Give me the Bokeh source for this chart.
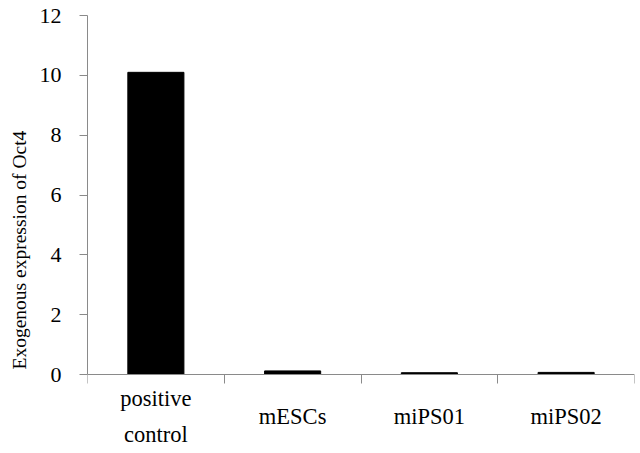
from bokeh.plotting import figure
from bokeh.models import Range1d, FixedTicker, ColumnDataSource, Title
from bokeh.core.properties import value
from bokeh.embed import file_html
from bokeh.resources import INLINE

categories = ["positive\ncontrol", "mESCs", "miPS01", "miPS02"]
values = [10.1, 0.12, 0.06, 0.07]
y_ticks = [0, 2, 4, 6, 8, 10, 12]
y_title = "Exogenous expression of Oct4"

xs = [i + 0.5 for i in range(len(categories))]
src = ColumnDataSource(dict(x=xs, top=values, base=[0] * len(xs), label=categories))

# layout in pixels (page origin observed at ~1px)
origin = 1
H = 450
top_border = 15
frame_top = origin + top_border
zero_px = 375
frame_bottom = origin + H
ppu = (zero_px - frame_top) / 12.0
y_start = -(frame_bottom - zero_px) / ppu

p = figure(width=636, height=H, output_backend="svg", toolbar_location=None,
           x_range=Range1d(0, len(categories)), y_range=Range1d(y_start, 12),
           min_border_left=87, min_border_right=2, min_border_top=top_border,
           min_border_bottom=0, outline_line_color=None)
p.xgrid.visible = False
p.ygrid.visible = False

p.vbar(x="x", top="top", bottom="base", width=0.41, source=src,
       fill_color="black", line_color="black")

font = "Liberation Serif"
p.text(x="x", y="base", text="label", source=src, y_offset=42,
       text_font=value(font), text_font_size="22.5px", text_color="black",
       text_align="center", text_baseline="middle", text_line_height=1.45)

axis_col = "#8a8a8a"

bx = p.xaxis[0]
bx.fixed_location = 0
bx.ticker = FixedTicker(ticks=list(range(len(categories) + 1)))
bx.major_label_overrides = {i: "" for i in range(len(categories) + 1)}
bx.axis_line_color = axis_col
bx.major_tick_line_color = axis_col
bx.major_tick_out = 9
bx.major_tick_in = 0
bx.minor_tick_line_color = None
bx.major_label_text_font_size = "1px"
bx.major_label_standoff = 0

ya = p.yaxis[0]
ya.bounds = (0, 12)
ya.ticker = FixedTicker(ticks=y_ticks)
ya.axis_line_color = axis_col
ya.major_tick_line_color = axis_col
ya.major_tick_out = 8
ya.major_tick_in = 0
ya.minor_tick_line_color = None
ya.major_label_text_font = font
ya.major_label_text_font_size = "22px"
ya.major_label_text_color = "black"
ya.major_label_standoff = 18

t = Title(text=y_title, align="left", offset=81, text_font=font,
          text_font_size="19.5px", text_font_style="normal", text_color="black",
          standoff=13)
p.add_layout(t, "left")

open("out.html", "w").write(file_html(p, INLINE))
